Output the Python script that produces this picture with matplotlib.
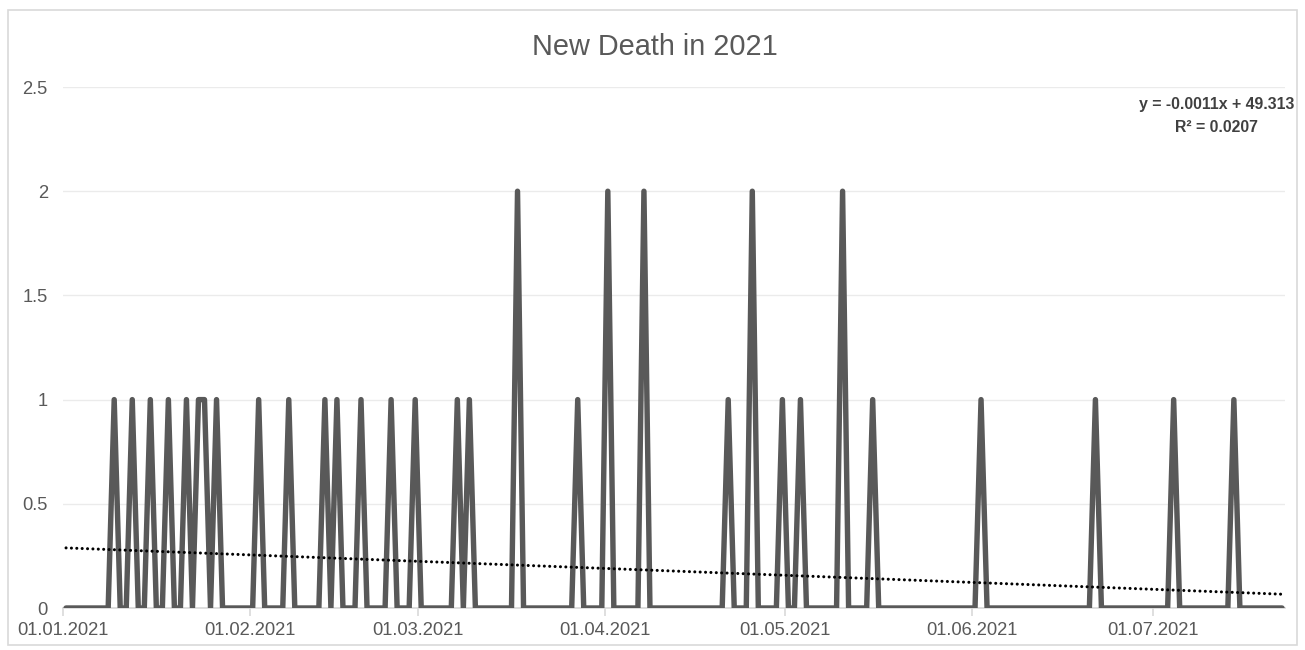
import matplotlib
matplotlib.use('Agg')
import matplotlib.pyplot as plt
import matplotlib.dates as mdates
from matplotlib.patches import Rectangle
import numpy as np
import pandas as pd

plt.rcParams['font.family'] = ['Liberation Sans', 'DejaVu Sans']

# days with reported deaths, everything else is zero
death_dates = ['2021-01-09', '2021-01-12', '2021-01-15', '2021-01-18', '2021-01-21',
               '2021-01-23', '2021-01-24', '2021-01-26', '2021-02-02', '2021-02-07',
               '2021-02-13', '2021-02-15', '2021-02-19', '2021-02-24', '2021-02-28',
               '2021-03-07', '2021-03-09', '2021-03-17', '2021-03-27', '2021-04-01',
               '2021-04-07', '2021-04-21', '2021-04-25', '2021-04-30', '2021-05-03',
               '2021-05-10', '2021-05-15', '2021-06-02', '2021-06-21', '2021-07-04',
               '2021-07-14']
death_counts = [1, 1, 1, 1, 1,
                1, 1, 1, 1, 1,
                1, 1, 1, 1, 1,
                1, 1, 2, 1, 2,
                2, 1, 2, 1, 1,
                2, 1, 1, 1, 1,
                1]
first_day = '2021-01-01'
last_day = '2021-07-22'
month_ticks = ['2021-01-01', '2021-02-01', '2021-03-01', '2021-04-01',
               '2021-05-01', '2021-06-01', '2021-07-01']
trend_label = 'y = -0.0011x + 49.313\nR² = 0.0207'

days = pd.date_range(first_day, last_day, freq='D')
deaths = pd.Series(death_counts, index=pd.to_datetime(death_dates)).reindex(days, fill_value=0)

x = mdates.date2num(days)
y = deaths.values.astype(float)
k, b = np.polyfit(x, y, 1)

fig = plt.figure(figsize=(13.05, 6.5), dpi=100)
fig.patches.append(Rectangle((0.006, 0.008), 0.988, 0.976, transform=fig.transFigure,
                             fill=False, edgecolor='#d9d9d9', linewidth=1.2))
ax = fig.add_axes([0.0483, 0.0646, 0.9364, 0.8015])

ax.plot(x, y, color='#595959', linewidth=3.9, solid_joinstyle='round',
        solid_capstyle='round', zorder=3)
ax.plot([x[0], x[-1]], [k * x[0] + b, k * x[-1] + b], color='black', linewidth=2.2,
        linestyle=(0, (0.01, 1.75)), dash_capstyle='round', zorder=4)

ax.set_xlim(x[0] - 0.5, x[-1] + 0.5)
ax.set_ylim(0, 2.5)
ax.set_yticks([0, 0.5, 1, 1.5, 2, 2.5])
ax.set_yticklabels(['0', '0.5', '1', '1.5', '2', '2.5'])
tick_pos = mdates.date2num(pd.to_datetime(month_ticks)) - 0.5
ax.set_xticks(tick_pos)
ax.set_xticklabels([pd.Timestamp(d).strftime('%d.%m.%Y') for d in month_ticks])

ax.grid(axis='y', color='#ebebeb', linewidth=1)
ax.set_axisbelow(True)
for side in ['left', 'right', 'top']:
    ax.spines[side].set_visible(False)
ax.spines['bottom'].set_color('#d9d9d9')
ax.spines['bottom'].set_linewidth(1.2)
ax.tick_params(axis='x', colors='#d9d9d9', length=6, width=1.2, pad=4,
               labelsize=13.2, labelcolor='#595959')
ax.tick_params(axis='y', length=0, pad=11, labelsize=13.2, labelcolor='#595959')

fig.text(0.502, 0.928, 'New Death in 2021', ha='center', va='center',
         fontsize=20.8, color='#595959')
ax.text(0.944, 0.98, trend_label, transform=ax.transAxes, ha='center', va='top',
        fontsize=11.4, fontweight='bold', color='#404040', linespacing=1.6)

fig.savefig('out.png', dpi=100)
